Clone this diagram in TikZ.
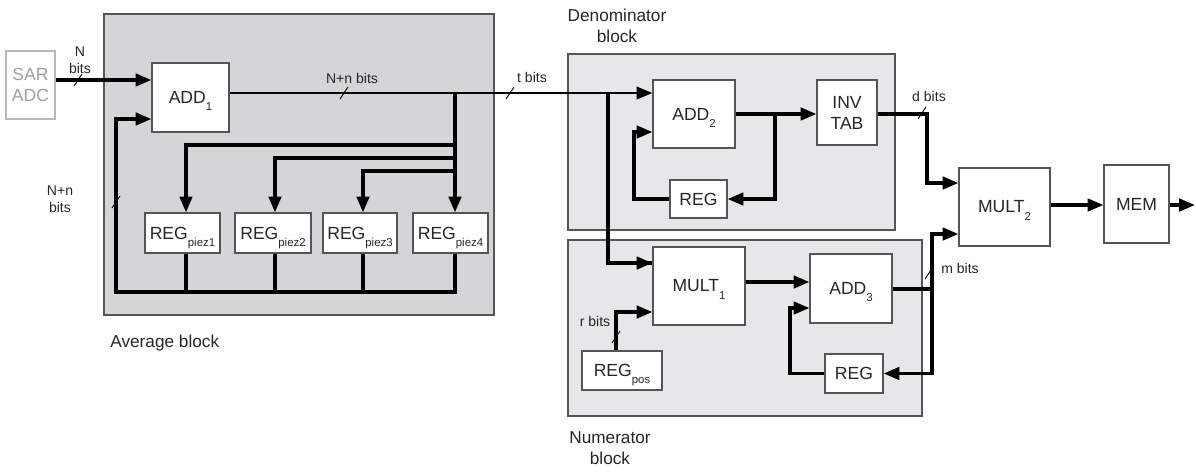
\documentclass[tikz,border=0pt]{standalone}
\usepackage{fontspec}
\setmainfont{Liberation Sans}
\usetikzlibrary{arrows.meta}
\definecolor{avgfill}{RGB}{212,213,215}
\definecolor{blkfill}{RGB}{230,231,232}
\definecolor{edge}{RGB}{85,85,85}
\newcommand\subs[1]{\raisebox{-0.8ex}[0pt][0pt]{\fontsize{6.5}{7}\selectfont #1}}
\newcommand\tk[2]{\draw[tick] (#1-4,#2+6) -- (#1+4,#2-6);}
\newcommand\bx[7][]{\node[box,#1, minimum width={(#5-#3)*0.02cm}, minimum height={(#6-#4)*0.02cm}] (#2) at ({(#3+#5)/2},{(#4+#6)/2}) {#7};}
\begin{document}
\begin{tikzpicture}[x=0.02cm,y=-0.02cm,
 box/.style={draw=edge, fill=white, inner sep=0pt, line width=0.6pt, font=\fontsize{10}{12}\selectfont, align=center, text=black!85},
 region/.style={draw=edge, inner sep=0pt, line width=0.6pt},
 wire/.style={line width=2pt, line join=miter},
 arr/.style={wire, -{Triangle[length=9pt,width=7pt]}},
 tick/.style={line width=0.5pt},
 lbl/.style={font=\fontsize{8}{9.6}\selectfont, align=center, inner sep=0pt, text=black!85},
 blab/.style={font=\fontsize{9.8}{12}\selectfont, align=center, inner sep=0pt, text=black!85}]

\useasboundingbox (0,0) rectangle (1196,471);

% regions
\bx[region, fill=avgfill]{avgblk}{104}{14}{494}{315}{}
\bx[region, fill=blkfill]{denblk}{568}{54}{895}{230}{}
\bx[region, fill=blkfill]{numblk}{568}{240}{922}{416}{}

% boxes
\bx[draw=gray!55, text=gray!75]{sar}{6}{51}{55}{119}{SAR\\ADC}
\bx{add1}{152}{63}{229}{132}{ADD\subs{1}}
\bx{p1}{145}{213}{220}{253}{REG\subs{piez1}}
\bx{p2}{235}{213}{311}{253}{REG\subs{piez2}}
\bx{p3}{323}{213}{397}{253}{REG\subs{piez3}}
\bx{p4}{413}{213}{488}{253}{REG\subs{piez4}}
\bx{add2}{653}{80}{735}{148}{ADD\subs{2}}
\bx{inv}{817}{80}{877}{145}{INV\\TAB}
\bx{regd}{670}{180}{727}{218}{REG}
\bx{mult1}{653}{247}{745}{325}{MULT\subs{1}}
\bx{regpos}{582}{351}{662}{390}{REG\subs{pos}}
\bx{add3}{810}{254}{892}{323}{ADD\subs{3}}
\bx{regn}{825}{354}{883}{393}{REG}
\bx{mult2}{959}{168}{1050}{246}{MULT\subs{2}}
\bx{mem}{1104}{165}{1169}{243}{MEM}

% helper coordinates
\coordinate (yin) at (0,80);
\coordinate (yf) at (0,119);
\coordinate (b0) at (455,93);
\coordinate (x1) at (186,0);
\coordinate (x2) at (275,0);
\coordinate (x3) at (363,0);
\coordinate (x4) at (455,0);
\coordinate (y1) at (0,145);
\coordinate (y2) at (0,158);
\coordinate (y3) at (0,171);
\coordinate (yb) at (0,292);
\coordinate (xl) at (116,0);
\coordinate (xd) at (608,0);
\coordinate (ym1) at (0,263);
\coordinate (ya2) at (0,114);
\coordinate (xb2) at (775,0);
\coordinate (xr2) at (634,0);
\coordinate (ya2b) at (0,132);
\coordinate (xinv) at (927,0);
\coordinate (ym2a) at (0,183);
\coordinate (ym2b) at (0,234);
\coordinate (ym1o) at (0,282);
\coordinate (xr) at (616,0);
\coordinate (yr) at (0,312);
\coordinate (ya3) at (0,289);
\coordinate (xm) at (932,0);
\coordinate (xr3) at (790,0);
\coordinate (ya3b) at (0,308);
\coordinate (ymem) at (0,205);
\coordinate (out) at (1195,205);

% average block wiring
\draw[arr] (sar.east |- yin) -- (add1.west |- yin);
\draw[arr, line width=1.5pt] (add1.east |- b0) -- (add2.west |- b0);
\draw[arr] (b0) -- (p4.north -| x4);
\draw[arr] (x4 |- y1) -| (p1.north -| x1);
\draw[arr] (x4 |- y2) -| (p2.north -| x2);
\draw[arr] (x4 |- y3) -| (p3.north -| x3);
\draw[wire] (p1.south -| x1) -- (x1 |- yb);
\draw[wire] (p2.south -| x2) -- (x2 |- yb);
\draw[wire] (p3.south -| x3) -- (x3 |- yb);
\draw[arr] (p4.south -| x4) |- (xl |- yb) |- (add1.west |- yf);

% denominator block wiring
\draw[wire] (xd |- b0) |- (mult1.west |- ym1);
\draw[arr] (xd |- ym1) -- (mult1.west |- ym1);
\draw[arr] (add2.east |- ya2) -- (inv.west |- ya2);
\draw[arr] (xb2 |- ya2) |- (regd.east);
\draw[arr] (regd.west) -| (xr2 |- ya2b) -- (add2.west |- ya2b);
\draw[arr] (inv.east |- ya2) -| (xinv |- ym2a) -- (mult2.west |- ym2a);

% numerator block wiring
\draw[arr] (mult1.east |- ym1o) -- (add3.west |- ym1o);
\draw[arr] (regpos.north -| xr) |- (mult1.west |- yr);
\draw[wire] (add3.east |- ya3) -- (xm |- ya3);
\draw[arr] (xm |- ya3) |- (mult2.west |- ym2b);
\draw[arr] (xm |- ya3) |- (regn.east);
\draw[arr] (regn.west) -| (xr3 |- ya3b) -- (add3.west |- ya3b);

% output
\draw[arr] (mult2.east |- ymem) -- (mem.west |- ymem);
\draw[arr] (mem.east |- ymem) -- (out);

% ticks
\tk{78}{80}
\tk{344}{93}
\tk{510}{93}
\tk{116}{202}
\tk{922}{113}
\tk{929}{273}
\tk{616}{337}

% labels
\node[lbl] (lN) at (80,60) {N\\bits};
\node[lbl] (lNn) at (352,78) {N+n bits};
\node[lbl] (lt) at (532,77) {t bits};
\node[lbl] (lNn2) at (60,199) {N+n\\bits};
\node[lbl] (ld) at (929,96) {d bits};
\node[lbl] (lm) at (960,268) {m bits};
\node[lbl] (lr) at (595,321) {r bits};
\node[blab, anchor=west] (lavg) at (110,343) {Average block};
\node[blab] (lden) at (617,26) {Denominator\\block};
\node[blab] (lnum) at (610,448) {Numerator\\block};
\end{tikzpicture}
\end{document}
